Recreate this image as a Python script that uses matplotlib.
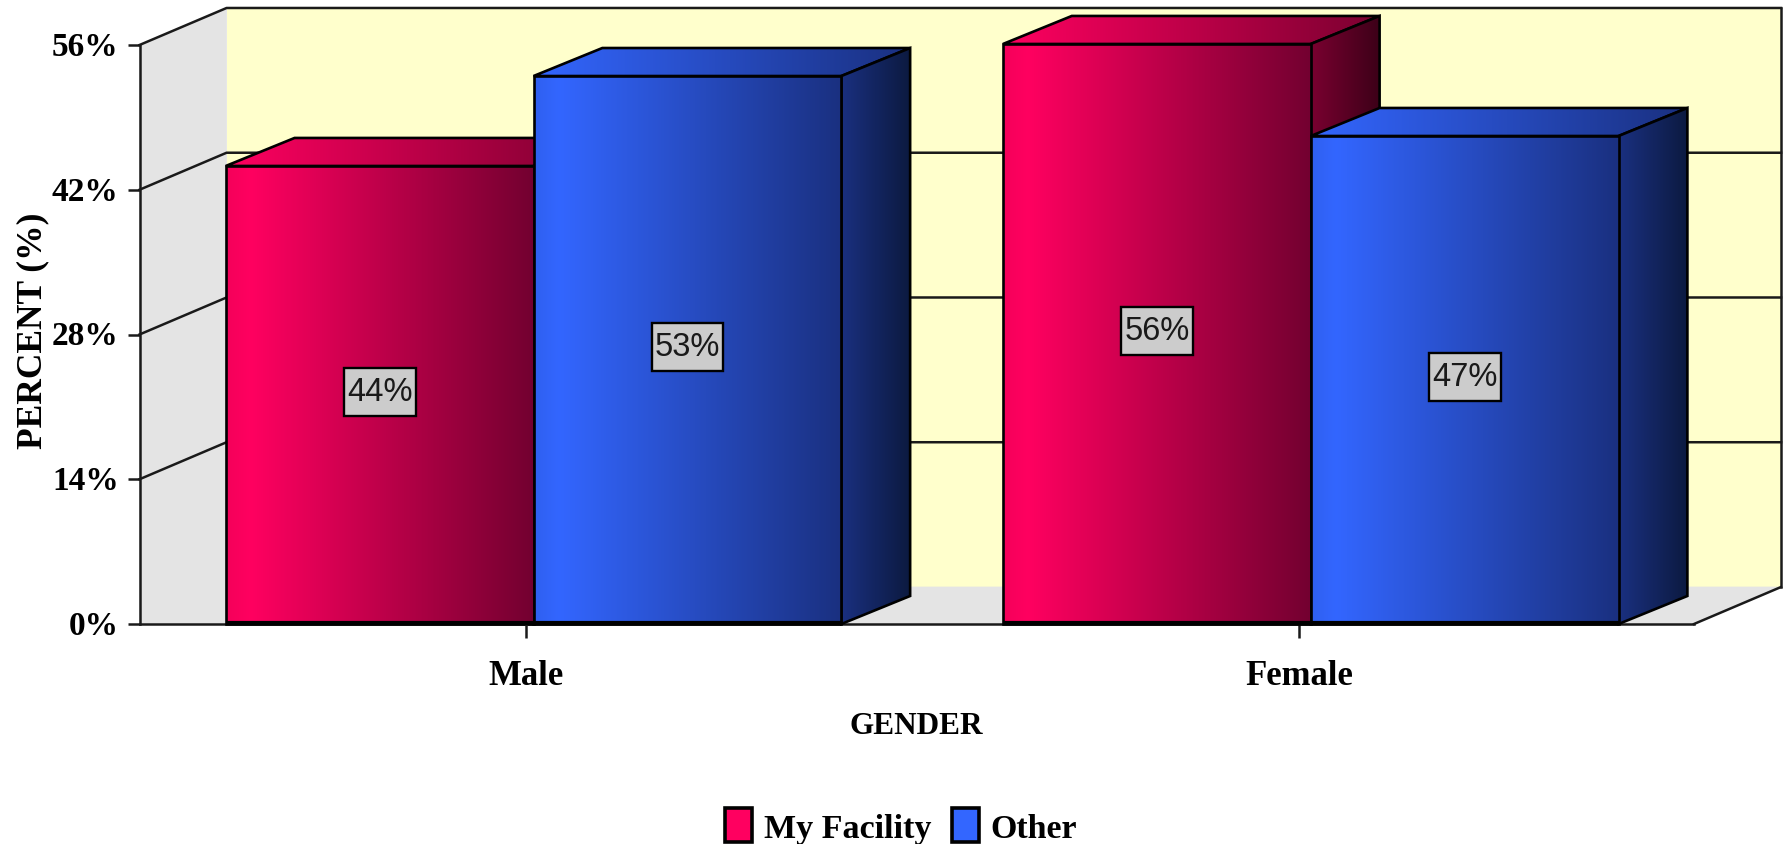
"""
gender_bars.py: pseudo-3D grouped bars, percent by gender
"""
import numpy as np
import matplotlib
matplotlib.use("Agg")
import matplotlib.pyplot as plt
from matplotlib.colors import LinearSegmentedColormap
from matplotlib.patches import Patch, Polygon
from matplotlib.path import Path
from matplotlib.transforms import ScaledTranslation

categories = ["Male", "Female"]
series_names = ["My Facility", "Other"]
my_facility = [44.3, 56.1]
other = [53.0, 47.2]
y_ticks = [0, 14, 28, 42, 56]
y_tick_labels = ["0%", "14%", "28%", "42%", "56%"]

# ── styling ──
SERIF = "Liberation Serif"
SANS = "Liberation Sans"
WALL_DX, WALL_DY = 0.112, 3.58      # depth of the chart box
BAR_DX, BAR_DY = 0.0885, 2.71       # depth of each bar
BAR_W = 0.396
GROUP_SHIFT = 0.007
YELLOW = "#FFFFCC"
GREY = "#E4E4E4"
RED_FRONT = [(0, "#F5005A"), (0.08, "#FF0060"), (1, "#730030")]
RED_SIDE = [(0, "#7A0030"), (1, "#3C0018")]
RED_TOP = [(0, "#FF0060"), (1, "#7A0030")]
BLUE_FRONT = [(0, "#2F60F0"), (0.08, "#3366FF"), (1, "#1A3080")]
BLUE_SIDE = [(0, "#1A3080"), (1, "#0C1A40")]
BLUE_TOP = [(0, "#3366FF"), (1, "#1A3080")]

fig = plt.figure(figsize=(17.89, 8.45), dpi=100)
ax = fig.add_axes([139.5 / 1789, 1 - 625 / 845, 1554.5 / 1789, 579 / 845])
ax.patch.set_visible(False)


def gradient_poly(pts, colors, z):
    """Horizontal gradient clipped to a polygon, with a black outline."""
    xs, ys = zip(*pts)
    cmap = LinearSegmentedColormap.from_list("g", colors)
    im = ax.imshow(np.linspace(0, 1, 256).reshape(1, -1), cmap=cmap, aspect="auto",
                   extent=(min(xs), max(xs), min(ys), max(ys)), zorder=z)
    poly = Polygon(pts, closed=True, fc="none", ec="black", lw=1.9, zorder=z + 0.1,
                   clip_on=False, joinstyle="miter")
    ax.add_patch(poly)
    im.set_clip_box(fig.bbox)
    im.set_clip_path(poly)


def tall_box(x0, y0, w, h, mutation_size):
    # label box in the original is taller than a plain text pad gives
    px, py = 0.10 * mutation_size, 0.26 * mutation_size
    return Path([(x0 - px, y0 - py), (x0 + w + px, y0 - py), (x0 + w + px, y0 + h + py),
                 (x0 - px, y0 + h + py), (x0 - px, y0 - py)], closed=True)


def draw_bar(x0, value, front, side, top, z):
    x1 = x0 + BAR_W
    gradient_poly([(x0, value), (x0 + BAR_DX, value + BAR_DY),
                   (x1 + BAR_DX, value + BAR_DY), (x1, value)], top, z)
    gradient_poly([(x1, 0), (x1 + BAR_DX, BAR_DY),
                   (x1 + BAR_DX, value + BAR_DY), (x1, value)], side, z + 0.2)
    gradient_poly([(x0, 0), (x1, 0), (x1, value), (x0, value)], front, z + 0.4)
    ax.plot([x0, x1], [0.12, 0.12], color="black", lw=3, zorder=z + 0.6,
            clip_on=False, solid_capstyle="butt")
    ax.text((x0 + x1) / 2, value / 2 + 0.3, f"{value:.0f}%", family=SANS, fontsize=23.5,
            ha="center", va="center", color="#1A1A1A", zorder=z + 0.8,
            bbox=dict(boxstyle=tall_box, fc="#CCCCCC", ec="black", lw=1.7))


# chart box: back wall, left wall, floor
x_end = len(categories)
top = y_ticks[-1]
ax.add_patch(Polygon([(WALL_DX, WALL_DY), (x_end + WALL_DX, WALL_DY),
                      (x_end + WALL_DX, top + WALL_DY), (WALL_DX, top + WALL_DY)],
                     fc=YELLOW, ec="none", zorder=0.1, clip_on=False))
ax.add_patch(Polygon([(0, 0), (WALL_DX, WALL_DY), (WALL_DX, top + WALL_DY), (0, top)],
                     fc=GREY, ec=GREY, lw=0.5, zorder=0.2, clip_on=False))
ax.add_patch(Polygon([(0, 0), (x_end, 0), (x_end + WALL_DX, WALL_DY), (WALL_DX, WALL_DY)],
                     fc=GREY, ec=GREY, lw=0.5, zorder=0.2, clip_on=False))

for v in y_ticks[1:]:
    ax.plot([0, WALL_DX, x_end + WALL_DX], [v, v + WALL_DY, v + WALL_DY],
            color="#1A1A1A", lw=1.8, zorder=0.4, clip_on=False)
ax.plot([x_end + WALL_DX, x_end + WALL_DX], [top + WALL_DY, WALL_DY],
        color="#1A1A1A", lw=1.8, zorder=0.4, clip_on=False)
ax.plot([x_end, x_end + WALL_DX], [0, WALL_DY], color="#1A1A1A", lw=1.8, zorder=0.4,
        clip_on=False)

# bars
z = 1
for i in range(len(categories)):
    center = i + 0.5 + GROUP_SHIFT
    draw_bar(center - BAR_W, my_facility[i], RED_FRONT, RED_SIDE, RED_TOP, z)
    draw_bar(center, other[i], BLUE_FRONT, BLUE_SIDE, BLUE_TOP, z + 1)
    z += 2

ax.set_xlim(0, x_end)
ax.set_ylim(0, top)

for name in ("top", "right"):
    ax.spines[name].set_visible(False)
for name in ("left", "bottom"):
    ax.spines[name].set_linewidth(1.8)
    ax.spines[name].set_color("#1A1A1A")
    ax.spines[name].set_zorder(0.5)

ax.set_yticks(y_ticks, y_tick_labels, family=SERIF, weight="bold", fontsize=24)
# original ticks sit slightly left of the group centres
ax.set_xticks([0.497 + i * 0.995 for i in range(len(categories))], categories,
              family=SERIF, weight="bold", fontsize=25)
ax.tick_params(axis="y", length=9, width=1.8, color="#1A1A1A", pad=6)
ax.tick_params(axis="x", length=10, width=1.8, color="#1A1A1A", pad=15)
for lab in ax.get_yticklabels():
    lab.set_transform(lab.get_transform() + ScaledTranslation(0, 1.5 / 72, fig.dpi_scale_trans))

fig.text(33 / 1789, 1 - 331 / 845, "PERCENT (%)", family=SERIF, weight="bold",
         fontsize=25.5, rotation=90, ha="center", va="center")
fig.text(916 / 1789, 1 - 727 / 845, "GENDER", family=SERIF, weight="bold",
         fontsize=22.5, ha="center", va="center")

handles = [Patch(fc="#FF0060", ec="black", lw=2.6),
           Patch(fc="#3366FF", ec="black", lw=2.6)]
fig.legend(handles, series_names, loc="center", bbox_to_anchor=(901 / 1789, 1 - 827 / 845),
           ncol=2, frameon=False, handlelength=0.8, handleheight=1.15, handletextpad=0.35,
           columnspacing=0.6, borderpad=0, borderaxespad=0,
           prop=dict(family=SERIF, weight="bold", size=24.5))

fig.savefig("out.png", dpi=100)
